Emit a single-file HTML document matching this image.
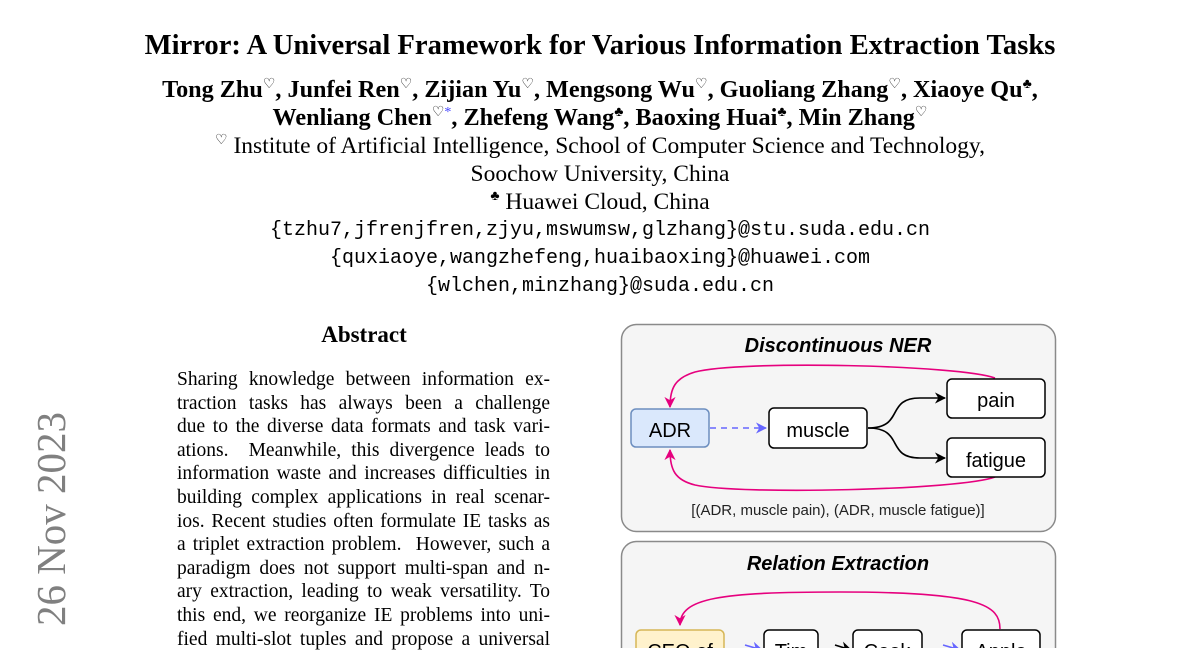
<!DOCTYPE html>
<html><head><meta charset="utf-8">
<style>
html,body{margin:0;padding:0;background:#fff;}
body{width:1200px;height:648px;position:relative;overflow:hidden;font-family:"Liberation Serif",serif;color:#000;}
.c{position:absolute;left:0;width:1200px;text-align:center;white-space:nowrap;line-height:1;}
.t{top:32px;font-size:28.6px;font-weight:bold;}
.a{font-size:24.2px;font-weight:bold;}
.f{font-size:23.5px;}
.m{font-family:"Liberation Mono",monospace;font-size:20px;}
sup{font-size:14px;font-weight:normal;vertical-align:9px;line-height:0;}
.abs{position:absolute;left:300px;width:128px;top:323px;font-size:23px;font-weight:bold;text-align:center;line-height:1;}
.body{position:absolute;left:177px;top:368px;width:373px;font-size:19.5px;}
.body div{height:23.6px;line-height:23.6px;text-align:justify;text-align-last:justify;white-space:nowrap;}
.date{position:absolute;left:51px;top:519px;transform:translate(-50%,-50%) rotate(-90deg);font-size:41px;color:#808080;white-space:nowrap;}
svg{position:absolute;left:0;top:0;}
</style></head><body>
<div class="c t">Mirror: A Universal Framework for Various Information Extraction Tasks</div>
<div class="c a" style="top:78px">Tong Zhu<sup>♡</sup>, Junfei Ren<sup>♡</sup>, Zijian Yu<sup>♡</sup>, Mengsong Wu<sup>♡</sup>, Guoliang Zhang<sup>♡</sup>, Xiaoye Qu<sup>♣</sup>,</div>
<div class="c a" style="top:106px">Wenliang Chen<sup>♡<span style="color:#44f">*</span></sup>, Zhefeng Wang<sup>♣</sup>, Baoxing Huai<sup>♣</sup>, Min Zhang<sup>♡</sup></div>
<div class="c f" style="top:135px"><sup>♡</sup> Institute of Artificial Intelligence, School of Computer Science and Technology,</div>
<div class="c f" style="top:163px">Soochow University, China</div>
<div class="c f" style="top:191px"><sup>♣</sup> Huawei Cloud, China</div>
<div class="c m" style="top:221px">{tzhu7,jfrenjfren,zjyu,mswumsw,glzhang}@stu.suda.edu.cn</div>
<div class="c m" style="top:249px">{quxiaoye,wangzhefeng,huaibaoxing}@huawei.com</div>
<div class="c m" style="top:277px">{wlchen,minzhang}@suda.edu.cn</div>
<div class="abs">Abstract</div>
<div class="body">
<div>Sharing knowledge between information ex-</div>
<div>traction tasks has always been a challenge</div>
<div>due to the diverse data formats and task vari-</div>
<div>ations. &nbsp;Meanwhile, this divergence leads to</div>
<div>information waste and increases difficulties in</div>
<div>building complex applications in real scenar-</div>
<div>ios. Recent studies often formulate IE tasks as</div>
<div>a triplet extraction problem. &nbsp;However, such a</div>
<div>paradigm does not support multi-span and n-</div>
<div>ary extraction, leading to weak versatility. To</div>
<div>this end, we reorganize IE problems into uni-</div>
<div>fied multi-slot tuples and propose a universal</div>
</div>
<div class="date">26 Nov 2023</div>
<svg width="1200" height="648" font-family="Liberation Sans, sans-serif">
<defs>
<marker id="pk" viewBox="0 0 10 10" refX="9" refY="5" markerWidth="7" markerHeight="7" orient="auto-start-reverse"><path d="M0,0 L10,5 L0,10 L3,5z" fill="#e6007e"/></marker>
<marker id="bk" viewBox="0 0 10 10" refX="9" refY="5" markerWidth="7" markerHeight="7" orient="auto"><path d="M0,0 L10,5 L0,10 L3,5z" fill="#000"/></marker>
<marker id="bl" viewBox="0 0 10 10" refX="9" refY="5" markerWidth="7" markerHeight="7" orient="auto"><path d="M0,0 L10,5 L0,10 L3,5z" fill="#6666ff"/></marker>
</defs>
<rect x="621.5" y="324.5" width="434" height="207" rx="15" fill="#f5f5f5" stroke="#8a8a8a" stroke-width="1.5"/>
<text x="838" y="352" text-anchor="middle" font-size="20" font-weight="bold" font-style="italic">Discontinuous NER</text>
<path d="M995,378 C960,365 740,360 695,372 C675,378 670,388 670,407" fill="none" stroke="#e6007e" stroke-width="1.6" marker-end="url(#pk)"/>
<path d="M995,477 C960,490 740,495 695,485 C675,480 670,470 670,450" fill="none" stroke="#e6007e" stroke-width="1.6" marker-end="url(#pk)"/>
<path d="M710,428 L766,428" fill="none" stroke="#6666ff" stroke-width="1.6" stroke-dasharray="6,5" marker-end="url(#bl)"/>
<path d="M868,428 C905,428 885,398 920,398 L945,398" fill="none" stroke="#000" stroke-width="1.6" marker-end="url(#bk)"/>
<path d="M868,428 C905,428 885,458 920,458 L945,458" fill="none" stroke="#000" stroke-width="1.6" marker-end="url(#bk)"/>
<rect x="631" y="409" width="78" height="38" rx="5" fill="#dae8fc" stroke="#6c8ebf" stroke-width="1.5"/>
<text x="670" y="437" text-anchor="middle" font-size="20">ADR</text>
<rect x="769" y="408" width="98" height="40" rx="5" fill="#fff" stroke="#000" stroke-width="1.5"/>
<text x="818" y="437" text-anchor="middle" font-size="20">muscle</text>
<rect x="947" y="379" width="98" height="39" rx="5" fill="#fff" stroke="#000" stroke-width="1.5"/>
<text x="996" y="407" text-anchor="middle" font-size="20">pain</text>
<rect x="947" y="438" width="98" height="39" rx="5" fill="#fff" stroke="#000" stroke-width="1.5"/>
<text x="996" y="467" text-anchor="middle" font-size="20">fatigue</text>
<text x="838" y="515" text-anchor="middle" font-size="15" fill="#222">[(ADR, muscle pain), (ADR, muscle fatigue)]</text>
<rect x="621.5" y="541.5" width="434" height="140" rx="15" fill="#f5f5f5" stroke="#8a8a8a" stroke-width="1.5"/>
<text x="838" y="570" text-anchor="middle" font-size="20" font-weight="bold" font-style="italic">Relation Extraction</text>
<path d="M1000,629 C1000,605 980,592 840,592 C720,592 680,598 680,625" fill="none" stroke="#e6007e" stroke-width="1.6" marker-end="url(#pk)"/>
<path d="M745,645 L762,650" stroke="#6666ff" stroke-width="1.6" marker-end="url(#bl)"/>
<path d="M835,645 L851,650" stroke="#000" stroke-width="1.6" marker-end="url(#bk)"/>
<path d="M943,645 L960,650" stroke="#6666ff" stroke-width="1.6" marker-end="url(#bl)"/>
<rect x="636" y="630" width="88" height="40" rx="5" fill="#fff2cc" stroke="#d6b656" stroke-width="1.5"/>
<text x="680" y="658" text-anchor="middle" font-size="20">CEO of</text>
<rect x="764" y="630" width="54" height="40" rx="5" fill="#fff" stroke="#000" stroke-width="1.5"/>
<text x="791" y="658" text-anchor="middle" font-size="20">Tim</text>
<rect x="853" y="630" width="69" height="40" rx="5" fill="#fff" stroke="#000" stroke-width="1.5"/>
<text x="887" y="658" text-anchor="middle" font-size="20">Cook</text>
<rect x="962" y="630" width="78" height="40" rx="5" fill="#fff" stroke="#000" stroke-width="1.5"/>
<text x="1001" y="658" text-anchor="middle" font-size="20">Apple</text>
</svg>
</body></html>
